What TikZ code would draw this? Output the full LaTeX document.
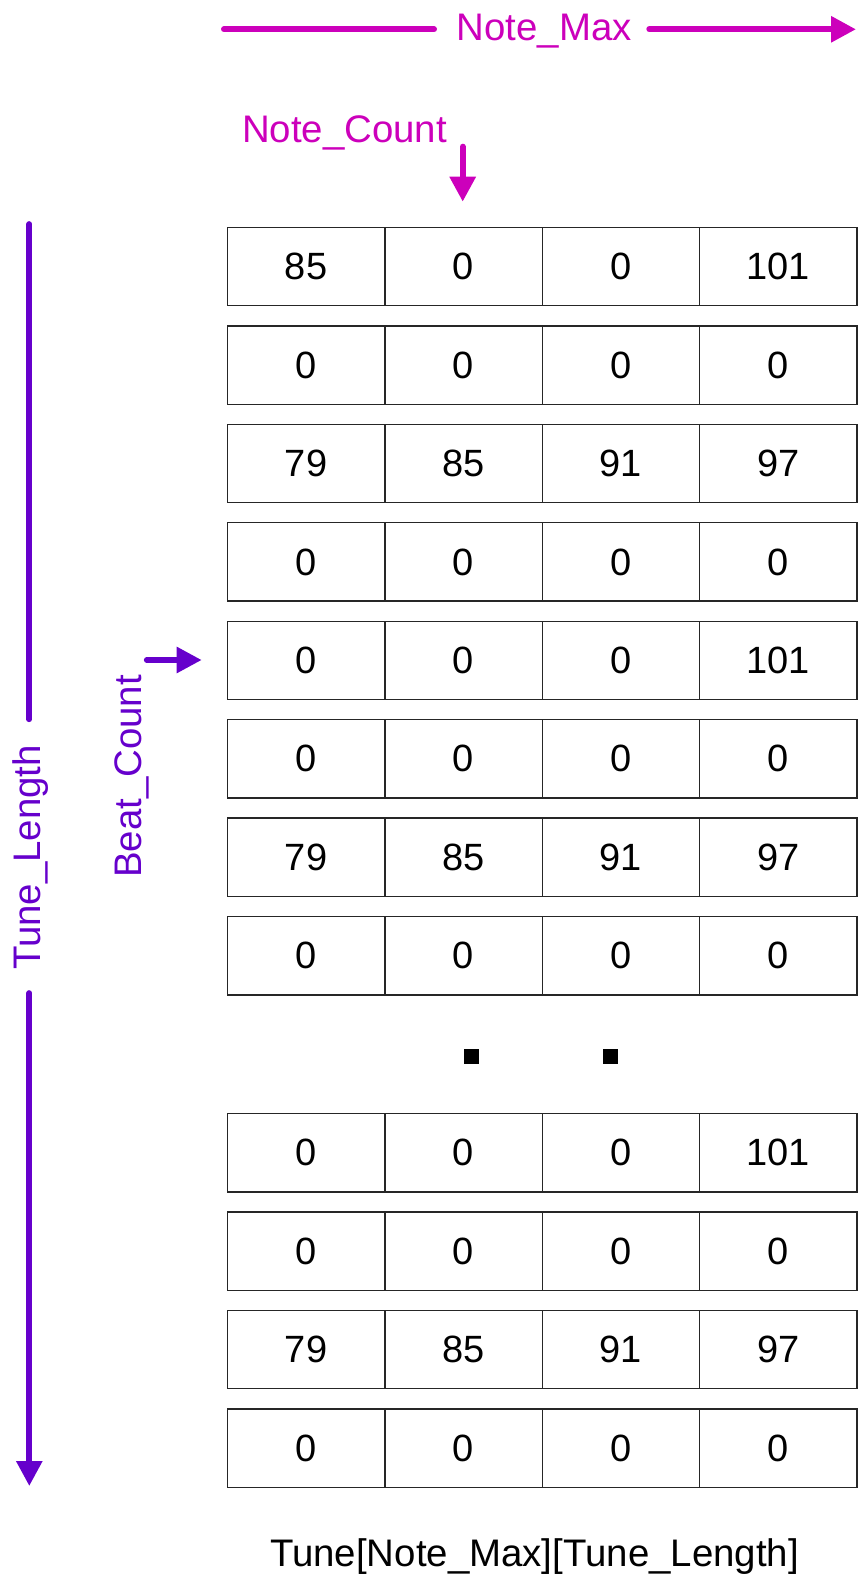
\documentclass[tikz,border=0pt]{standalone}
\usepackage{fontspec}
\setmainfont{Liberation Sans}
\usetikzlibrary{arrows.meta}
\definecolor{mag}{HTML}{CC00BB}
\definecolor{pur}{HTML}{6600CC}
\tikzset{
  cell/.style={draw=black!85, line width=1.4pt, minimum width=157.4pt, minimum height=78.4pt, inner sep=0pt, font=\fontsize{38}{44}\selectfont, anchor=north west},
  lbl/.style={font=\fontsize{38.4}{44}\selectfont, inner sep=0pt, anchor=base},
  magline/.style={draw=mag, line width=6pt, line cap=round},
  purline/.style={draw=pur, line width=5.7pt, line cap=round},
  tip/.style={-{Triangle[length=25pt,width=25pt]}},
  dotsq/.style={fill=black, minimum width=15pt, minimum height=15pt, inner sep=0pt}
}
\begin{document}
\begin{tikzpicture}[x=1pt,y=-1pt]
\useasboundingbox (0,0) rectangle (857,1578);
% grid cells
\foreach \r/\i/\a/\b/\c/\d in {
  1/0/85/0/0/101,
  2/1/0/0/0/0,
  3/2/79/85/91/97,
  4/3/0/0/0/0,
  5/4/0/0/0/101,
  6/5/0/0/0/0,
  7/6/79/85/91/97,
  8/7/0/0/0/0,
  9/9/0/0/0/101,
  10/10/0/0/0/0,
  11/11/79/85/91/97,
  12/12/0/0/0/0}{
  \pgfmathsetmacro\ty{226.7+98.45*\i}
  \node[cell] (c\r a) at (226.7,\ty) {\a};
  \node[cell] (c\r b) at (384.1,\ty) {\b};
  \node[cell] (c\r c) at (541.5,\ty) {\c};
  \node[cell] (c\r d) at (698.9,\ty) {\d};
}
% dots
\node[dotsq] (dot1) at (471,1056) {};
\node[dotsq] (dot2) at (610,1056) {};
% Note_Max
\node[lbl, text=mag] (nmax) at (544.2,40.7) {Note\_Max};
\coordinate (nmL) at (224,29.3);
\coordinate (nmL2) at (434,29.3);
\coordinate (nmR1) at (649.3,29.3);
\coordinate (nmR) at (856,29.3);
\draw[magline] (nmL) -- (nmL2);
\draw[magline, tip] (nmR1) -- (nmR);
% Note_Count
\node[lbl, text=mag] (ncnt) at (344.5,142.7) {Note\_Count};
\coordinate (ncA) at (462.7,146.7);
\coordinate (ncB) at (462.7,201.7);
\draw[magline, tip] (ncA) -- (ncB);
% Tune_Length
\node[lbl, text=pur, rotate=90] (tlen) at (40.7,857.5) {Tune\_Length};
\coordinate (tlT) at (29.3,224);
\coordinate (tlT2) at (29.3,719.3);
\coordinate (tlB1) at (29.3,993);
\coordinate (tlB) at (29.3,1486);
\draw[purline] (tlT) -- (tlT2);
\draw[purline, tip] (tlB1) -- (tlB);
% Beat_Count
\node[lbl, text=pur, rotate=90] (bcnt) at (141.7,776.5) {Beat\_Count};
\coordinate (bcA) at (146.7,660);
\coordinate (bcB) at (201.7,660);
\draw[purline, tip] (bcA) -- (bcB);
% caption
\node[lbl] (cap) at (534.5,1566.7) {Tune[Note\_Max][Tune\_Length]};
\end{tikzpicture}
\end{document}
